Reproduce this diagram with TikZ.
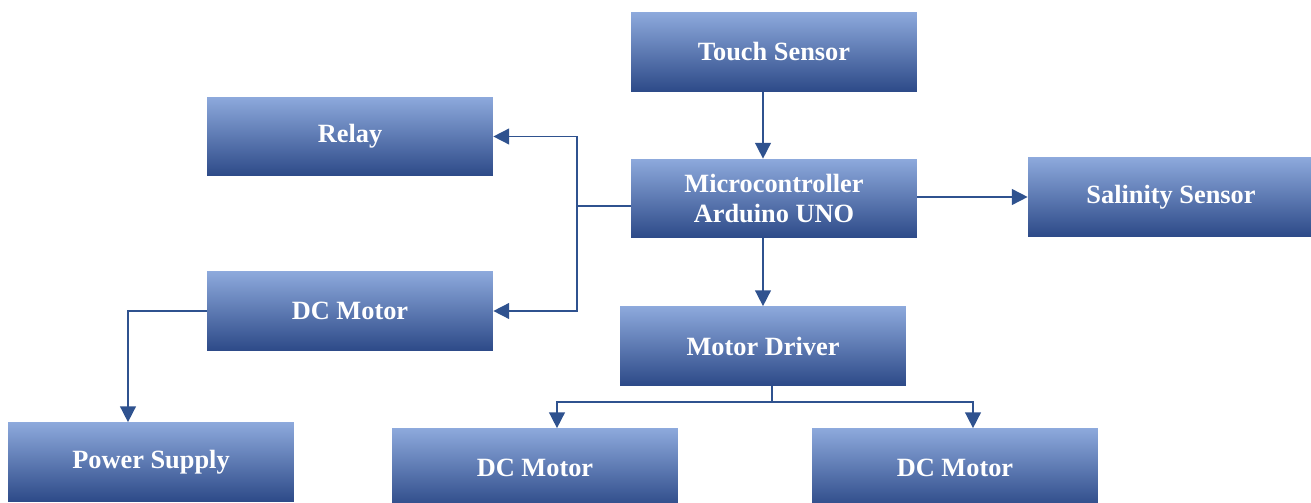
\documentclass[tikz,border=0pt]{standalone}
\usepackage{fontspec}
\setmainfont{Liberation Serif}
\usetikzlibrary{arrows.meta,calc}
\definecolor{bleuclair}{HTML}{8DA9DC}
\definecolor{bleu}{HTML}{4070C8}
\definecolor{bleufonce}{HTML}{2D4A88}
\definecolor{trait}{HTML}{2F528F}
\begin{document}
\begin{tikzpicture}[x=0.02cm,y=-0.02cm,
	bloc/.style={minimum width=5.72cm,minimum height=1.58cm,inner sep=0pt,
		top color=bleuclair,middle color=bleu,bottom color=bleufonce,
		text=white,font=\fontsize{15}{17}\selectfont\bfseries,align=center},
	fleche/.style={draw=trait,line width=0.9pt,-{Triangle[width=9pt,length=9pt]}},
	lien/.style={draw=trait,line width=0.9pt}]
	\useasboundingbox (0,0) rectangle (1311,503);
	\clip (0,0) rectangle (1311,503);
	% Blocs
	\node[bloc] (touch) at (774,52) {Touch Sensor};
	\node[bloc] (micro) at (774,198.5) {Microcontroller\\Arduino UNO};
	\node[bloc] (relay) at (350,136.5) {Relay};
	\node[bloc] (sal) at (1171,197) {Salinity Sensor};
	\node[bloc] (dcm) at (350,311) {DC Motor};
	\node[bloc] (driver) at (763,346) {Motor Driver};
	\node[bloc] (ps) at (151,462) {Power Supply};
	\node[bloc] (m1) at (535,468) {DC Motor};
	\node[bloc] (m2) at (955,468) {DC Motor};
	% Liaisons
	\coordinate (j) at (577,206);
	\coordinate (k) at (772,402);
	\coordinate (c) at (128,0);
	\draw[fleche] (touch.south -| driver.north) -- (micro.north -| driver.north);
	\draw[fleche] (micro.south -| driver.north) -- (driver.north);
	\draw[fleche] (micro.east |- sal.west) -- (sal.west);
	\draw[lien] (micro.west |- j) -- (j);
	\draw[fleche] (j) |- (relay.east);
	\draw[fleche] (j) |- (dcm.east);
	\draw[lien] (driver.south -| k) -- (k);
	\draw[fleche] (k) -| ($(m1.north)+(22,0)$);
	\draw[fleche] (k) -| ($(m2.north)+(18,0)$);
	\draw[fleche] (dcm.west) -| (c |- ps.north);
\end{tikzpicture}
\end{document}
